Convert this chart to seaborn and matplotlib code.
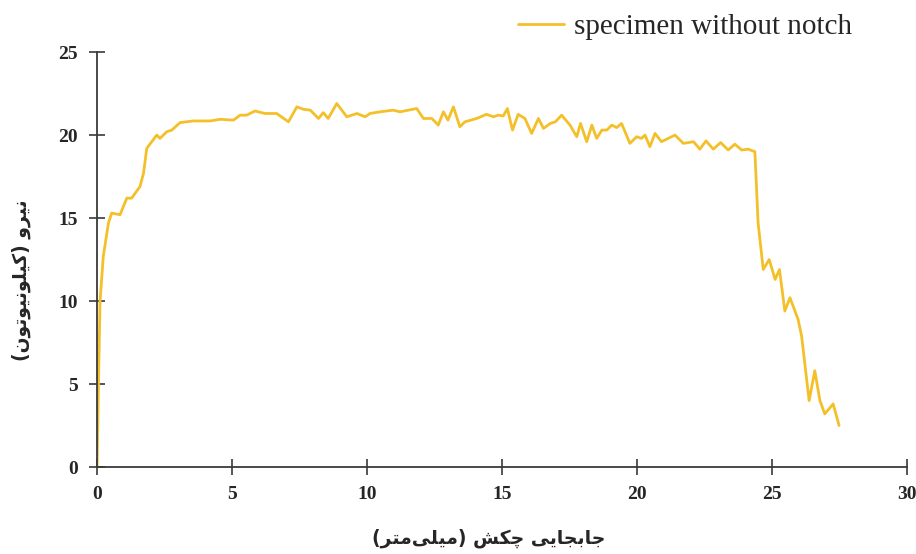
import numpy as np
import pandas as pd
import matplotlib
matplotlib.use("Agg")
import matplotlib.pyplot as plt
import seaborn as sns

# Dados (deslocamento em mm, força em kN)
displacement = [0.0, 0.05, 0.11, 0.23, 0.42, 0.54, 0.85, 1.10, 1.28, 1.59, 1.72, 1.84,
                2.21, 2.33, 2.58, 2.77, 3.07, 3.57, 4.19, 4.56, 5.05, 5.30, 5.54, 5.85,
                6.22, 6.65, 7.09, 7.40, 7.65, 7.90, 8.20, 8.38, 8.56, 8.88, 9.25, 9.63,
                9.93, 10.11, 10.48, 10.97, 11.22, 11.84, 12.09, 12.40, 12.64, 12.83, 13.00,
                13.20, 13.44, 13.63, 14.06, 14.43, 14.68, 14.86, 15.05, 15.20, 15.39, 15.60,
                15.85, 16.10, 16.35, 16.54, 16.79, 16.98, 17.21, 17.52, 17.77, 17.91, 18.14,
                18.33, 18.51, 18.70, 18.88, 19.07, 19.25, 19.43, 19.74, 19.99, 20.17, 20.30,
                20.48, 20.67, 20.91, 21.41, 21.72, 22.10, 22.33, 22.56, 22.83, 23.10, 23.38,
                23.63, 23.88, 24.12, 24.37, 24.49, 24.68, 24.90, 25.12, 25.28, 25.48, 25.67,
                25.97, 26.10, 26.38, 26.59, 26.78, 26.96, 27.27, 27.49]
force = [0.0, 5.0, 10.0, 12.7, 14.7, 15.3, 15.2, 16.2, 16.2, 16.9, 17.7, 19.2,
         20.0, 19.8, 20.2, 20.3, 20.75, 20.85, 20.85, 20.95, 20.9, 21.2, 21.2, 21.45,
         21.3, 21.3, 20.8, 21.7, 21.55, 21.5, 21.0, 21.35, 21.0, 21.9, 21.1, 21.3,
         21.1, 21.3, 21.4, 21.5, 21.4, 21.6, 21.0, 21.0, 20.6, 21.4, 20.9,
         21.7, 20.5, 20.8, 21.0, 21.25, 21.1, 21.2, 21.15, 21.6, 20.3, 21.25,
         21.0, 20.1, 21.0, 20.4, 20.7, 20.8, 21.2, 20.6, 19.9, 20.7, 19.6,
         20.6, 19.8, 20.3, 20.3, 20.6, 20.45, 20.7, 19.5, 19.9, 19.8, 20.0,
         19.3, 20.1, 19.6, 20.0, 19.5, 19.6, 19.15, 19.65, 19.15, 19.55, 19.1,
         19.45, 19.1, 19.15, 19.0, 14.7, 11.9, 12.5, 11.3, 11.9, 9.4, 10.2,
         8.9, 7.9, 4.0, 5.8, 4.0, 3.2, 3.8, 2.5]

series_label = "specimen without notch"
x_label = "جابجایی چکش (میلی\u200cمتر)"
y_label = "نیرو (کیلونیوتون)"
x_ticks = [0, 5, 10, 15, 20, 25, 30]
y_ticks = [0, 5, 10, 15, 20, 25]

# Formas contextuais das letras persas (isolada, final, inicial, medial)
FORMS = {
    'ا': ('\uFE8D', '\uFE8E', None, None),
    'ب': ('\uFE8F', '\uFE90', '\uFE91', '\uFE92'),
    'ت': ('\uFE95', '\uFE96', '\uFE97', '\uFE98'),
    'ج': ('\uFE9D', '\uFE9E', '\uFE9F', '\uFEA0'),
    'چ': ('\uFB7A', '\uFB7B', '\uFB7C', '\uFB7D'),
    'ر': ('\uFEAD', '\uFEAE', None, None),
    'ش': ('\uFEB5', '\uFEB6', '\uFEB7', '\uFEB8'),
    'ک': ('\uFB8E', '\uFB8F', '\uFB90', '\uFB91'),
    'ل': ('\uFEDD', '\uFEDE', '\uFEDF', '\uFEE0'),
    'م': ('\uFEE1', '\uFEE2', '\uFEE3', '\uFEE4'),
    'ن': ('\uFEE5', '\uFEE6', '\uFEE7', '\uFEE8'),
    'و': ('\uFEED', '\uFEEE', None, None),
    'ی': ('\uFBFC', '\uFBFD', '\uFBFE', '\uFBFF'),
}


def shape_fa(text):
    # matplotlib não faz shaping nem bidi: monta as formas e inverte a ordem
    out = []
    for i, ch in enumerate(text):
        if ch not in FORMS:
            out.append(ch)
            continue
        f = FORMS[ch]
        prev = text[i - 1] if i > 0 else ''
        nxt = text[i + 1] if i + 1 < len(text) else ''
        join_prev = prev in FORMS and FORMS[prev][2] is not None
        join_next = f[2] is not None and nxt in FORMS
        if join_prev and join_next:
            out.append(f[3])
        elif join_prev:
            out.append(f[1])
        elif join_next:
            out.append(f[2])
        else:
            out.append(f[0])
    vis = ''.join(reversed(out)).replace('\u200c', '')
    return vis.translate(str.maketrans('()', ')('))


df = pd.DataFrame({"x": displacement, "y": force})

sns.set_style("ticks")
plt.rcParams['font.family'] = ['Liberation Serif', 'DejaVu Sans']

fig = plt.figure(figsize=(9.16, 5.54), dpi=100)
ax = fig.add_axes([0.106, 0.157, 0.884, 0.749])

sns.lineplot(data=df, x="x", y="y", ax=ax, color="#F4C02A", linewidth=2.0,
             label=series_label, legend=False)
ax.lines[0].set_solid_joinstyle('round')

ax.set_xlim(0, 30)
ax.set_ylim(0, 25)
ax.set_xticks(x_ticks)
ax.set_yticks(y_ticks)
ax.set_xticklabels([str(t) for t in x_ticks], fontsize=14, fontweight='bold')
ax.set_yticklabels([str(t) for t in y_ticks], fontsize=14, fontweight='bold')
ax.tick_params(direction='inout', length=12, width=1.2, color='#3a3a3a', pad=8)

sns.despine(ax=ax)
for side in ['left', 'bottom']:
    ax.spines[side].set_color('#3a3a3a')
    ax.spines[side].set_linewidth(1.3)

ax.set_xlabel(shape_fa(x_label), fontsize=13.5, fontweight='bold',
              family=['DejaVu Sans'], va='center')
ax.set_ylabel(shape_fa(y_label), fontsize=13.5, fontweight='bold',
              family=['DejaVu Sans'], va='center')
ax.xaxis.set_label_coords(0.483, -0.171)
ax.yaxis.set_label_coords(-0.093, 0.45)

fig.legend(loc='center right', bbox_to_anchor=(0.930, 0.951), frameon=False,
           fontsize=21, handlelength=1.55, handletextpad=0.35,
           borderpad=0, borderaxespad=0)

fig.savefig("out.png", dpi=100)
